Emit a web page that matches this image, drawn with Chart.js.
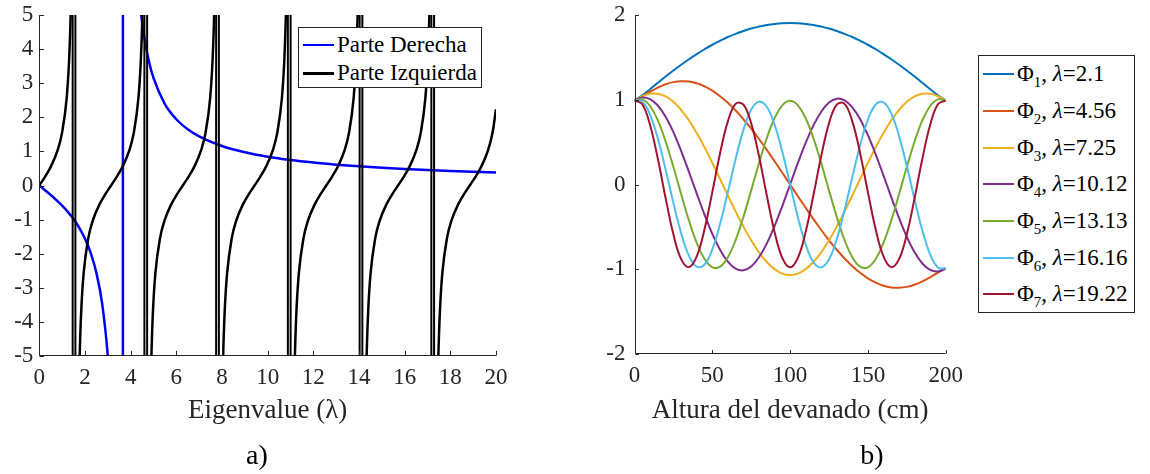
<!DOCTYPE html>
<html lang="es">
<head>
<meta charset="utf-8">
<title>Eigenvalores y modos del devanado</title>
<script src="https://cdn.jsdelivr.net/npm/chart.js@4.4.1/dist/chart.umd.min.js"></script>
<style>
  html, body { margin: 0; padding: 0; background: #fff; }
  #wrap { position: relative; width: 1150px; height: 474px; overflow: hidden;
          font-family: "Liberation Serif", "Times New Roman", serif; color: #000; }
  canvas { position: absolute; top: 0; }
  #chartA { left: 0; }
  #chartB { left: 575px; }
  .legend { position: absolute; box-sizing: border-box; border: 1px solid #262626; background: #fff; }
  .legend .row { position: absolute; left: 0; right: 0; height: 24px; line-height: 24px; white-space: nowrap; font-size: 23px; }
  .legend .swatch { position: absolute; left: 4px; width: 31px; }
  .legend .txt { position: absolute; left: 38px; top: 0; }
  .legend sub { font-size: 65%; vertical-align: -6px; line-height: 0; }
  .panel { position: absolute; font-size: 28px; line-height: 32px; transform: translateX(-50%); }
</style>
</head>
<body>
<div id="wrap">
  <canvas id="chartA" width="575" height="474"></canvas>
  <canvas id="chartB" width="575" height="474"></canvas>
  <div id="legendA" class="legend" style="left:298px; top:27px; width:184px; height:61px;"></div>
  <div id="legendB" class="legend" style="left:978px; top:55px; width:157px; height:258px;"></div>
  <div class="panel" style="left:257px; top:439px;">a)</div>
  <div class="panel" style="left:872px; top:439px;">b)</div>
</div>
<script>
// a) Ecuación característica: parte derecha vs. parte izquierda

const lambdaDer = [0, 0.25, 0.5, 0.75, 1, 1.25, 1.5, 1.75, 2, 2.25, 2.5, 2.75, 3, 3.1, 3.2, 3.3, 3.5, 3.66,
  3.8, 3.9, 4, 4.2, 4.4, 4.6, 4.8, 5, 5.5, 6, 6.5, 7, 8, 9, 10, 11, 12, 13, 14, 15, 16, 17, 18, 19, 20];
const parteDer = [0, -0.137, -0.278, -0.428, -0.591, -0.773, -0.985, -1.240, -1.558, -1.977, -2.561, -3.451, -4.996, -5.994, -7.423, -9.641, -22.36, null,
  26.63, 15.73, 11.24, 7.243, 5.400, 4.337, 3.643, 3.154, 2.389, 1.943, 1.649, 1.439, 1.157, 0.975, 0.845, 0.748, 0.673, 0.612, 0.561, 0.519, 0.483, 0.452, 0.424, 0.400, 0.379];
const asintotaDer = [3.66];

const lambdaIzq = [
  0, 0.25, 0.5, 0.8, 1.0, 1.2, 1.3, 1.35, 1.4, 1.45, 1.5708,
  1.6916, 1.7416, 1.7916, 1.8416, 1.9416, 2.1416, 2.3416, 2.6416, 2.8916, 3.1416, 3.3916, 3.6416, 3.9416, 4.1416, 4.3416, 4.4416, 4.4916, 4.5416, 4.5916, 4.7124,
  4.8332, 4.8832, 4.9332, 4.9832, 5.0832, 5.2832, 5.4832, 5.7832, 6.0332, 6.2832, 6.5332, 6.7832, 7.0832, 7.2832, 7.4832, 7.5832, 7.6332, 7.6832, 7.7332, 7.854,
  7.9748, 8.0248, 8.0748, 8.1248, 8.2248, 8.4248, 8.6248, 8.9248, 9.1748, 9.4248, 9.6748, 9.9248, 10.2248, 10.4248, 10.6248, 10.7248, 10.7748, 10.8248, 10.8748, 10.9956,
  11.1164, 11.1664, 11.2164, 11.2664, 11.3664, 11.5664, 11.7664, 12.0664, 12.3164, 12.5664, 12.8164, 13.0664, 13.3664, 13.5664, 13.7664, 13.8664, 13.9164, 13.9664, 14.0164, 14.1372,
  14.258, 14.308, 14.358, 14.408, 14.508, 14.708, 14.908, 15.208, 15.458, 15.708, 15.958, 16.208, 16.508, 16.708, 16.908, 17.008, 17.058, 17.108, 17.158, 17.2788,
  17.3996, 17.4496, 17.4996, 17.5496, 17.6496, 17.8496, 18.0496, 18.3496, 18.5996, 18.8496, 19.0996, 19.3496, 19.6496, 19.8496, 20
];
const parteIzq = [
  0, 0.255, 0.546, 1.030, 1.557, 2.572, 3.602, 4.455, 5.798, 8.238, null,
  -8.238, -5.798, -4.455, -3.602, -2.572, -1.557, -1.030, -0.546, -0.255, 0, 0.255, 0.546, 1.030, 1.557, 2.572, 3.602, 4.455, 5.798, 8.238, null,
  -8.238, -5.798, -4.455, -3.602, -2.572, -1.557, -1.030, -0.546, -0.255, 0, 0.255, 0.546, 1.030, 1.557, 2.572, 3.602, 4.455, 5.798, 8.238, null,
  -8.238, -5.798, -4.455, -3.602, -2.572, -1.557, -1.030, -0.546, -0.255, 0, 0.255, 0.546, 1.030, 1.557, 2.572, 3.602, 4.455, 5.798, 8.238, null,
  -8.238, -5.798, -4.455, -3.602, -2.572, -1.557, -1.030, -0.546, -0.255, 0, 0.255, 0.546, 1.030, 1.557, 2.572, 3.602, 4.455, 5.798, 8.238, null,
  -8.238, -5.798, -4.455, -3.602, -2.572, -1.557, -1.030, -0.546, -0.255, 0, 0.255, 0.546, 1.030, 1.557, 2.572, 3.602, 4.455, 5.798, 8.238, null,
  -8.238, -5.798, -4.455, -3.602, -2.572, -1.557, -1.030, -0.546, -0.255, 0, 0.255, 0.546, 1.030, 1.557, 2.237
];
// double jump lines at every pole of the black curve
const asintotasIzq = [1.4608, 1.5808, 4.6024, 4.7224, 7.744, 7.864, 10.8856, 11.0056, 14.0272, 14.1472, 17.1688, 17.2888];

const ticksLambda = [0, 2, 4, 6, 8, 10, 12, 14, 16, 18, 20];
const ticksA = [-5, -4, -3, -2, -1, 0, 1, 2, 3, 4, 5];
const nombresA = ['Parte Derecha', 'Parte Izquierda'];
const coloresA = ['#0000ff', '#000000'];

// b) Modos Φ1..Φ7 a lo largo del devanado

const alturas = [0, 5, 10, 15, 20, 25, 30, 35, 40, 45, 50, 55, 60, 65, 70, 75, 80, 85, 90, 95, 100,
  105, 110, 115, 120, 125, 130, 135, 140, 145, 150, 155, 160, 165, 170, 175, 180, 185, 190, 195, 200];
const phi1 = [0.990, 1.053, 1.125, 1.200, 1.274, 1.345, 1.413, 1.478, 1.539, 1.596, 1.649, 1.696, 1.740, 1.778, 1.811, 1.840, 1.863, 1.882, 1.895, 1.903, 1.905,
  1.903, 1.895, 1.882, 1.863, 1.840, 1.811, 1.778, 1.740, 1.696, 1.649, 1.596, 1.539, 1.478, 1.413, 1.345, 1.274, 1.200, 1.125, 1.053, 0.990];
const phi2 = [0.990, 1.040, 1.095, 1.144, 1.183, 1.208, 1.218, 1.214, 1.194, 1.158, 1.108, 1.042, 0.964, 0.873, 0.770, 0.658, 0.537, 0.409, 0.275, 0.139, 0,
  -0.139, -0.275, -0.409, -0.537, -0.658, -0.770, -0.873, -0.964, -1.042, -1.108, -1.158, -1.194, -1.214, -1.218, -1.208, -1.183, -1.144, -1.095, -1.040, -0.990];
const phi3 = [0.990, 1.041, 1.070, 1.071, 1.039, 0.975, 0.879, 0.756, 0.607, 0.439, 0.256, 0.065, -0.129, -0.318, -0.496, -0.659, -0.800, -0.914, -0.999, -1.051, -1.068,
  -1.051, -0.999, -0.914, -0.800, -0.659, -0.496, -0.318, -0.129, 0.065, 0.256, 0.439, 0.607, 0.756, 0.879, 0.975, 1.039, 1.071, 1.070, 1.041, 0.990];
const phi4 = [0.990, 1.026, 1.008, 0.932, 0.799, 0.617, 0.395, 0.149, -0.107, -0.356, -0.582, -0.771, -0.911, -0.993, -1.012, -0.967, -0.859, -0.698, -0.491, -0.254, 0,
  0.254, 0.491, 0.698, 0.859, 0.967, 1.012, 0.993, 0.911, 0.771, 0.582, 0.356, 0.107, -0.149, -0.395, -0.617, -0.799, -0.932, -1.008, -1.026, -0.990];
const phi5 = [0.990, 1.005, 0.926, 0.756, 0.508, 0.207, -0.115, -0.425, -0.689, -0.880, -0.977, -0.970, -0.859, -0.656, -0.383, -0.069, 0.252, 0.546, 0.782, 0.934, 0.987,
  0.934, 0.782, 0.546, 0.252, -0.069, -0.383, -0.656, -0.859, -0.970, -0.977, -0.880, -0.689, -0.425, -0.115, 0.207, 0.508, 0.756, 0.926, 1.005, 0.990];
const phi6 = [0.990, 0.979, 0.824, 0.542, 0.176, -0.217, -0.574, -0.840, -0.970, -0.944, -0.766, -0.464, -0.088, 0.302, 0.644, 0.882, 0.978, 0.917, 0.708, 0.385, 0,
  -0.385, -0.708, -0.917, -0.978, -0.882, -0.644, -0.302, 0.088, 0.464, 0.766, 0.944, 0.970, 0.840, 0.574, 0.217, -0.176, -0.542, -0.824, -0.979, -0.990];
const phi7 = [0.990, 0.947, 0.701, 0.303, -0.161, -0.588, -0.881, -0.975, -0.848, -0.529, -0.090, 0.369, 0.745, 0.952, 0.943, 0.721, 0.336, -0.126, -0.559, -0.865, -0.976,
  -0.865, -0.559, -0.126, 0.336, 0.721, 0.943, 0.952, 0.745, 0.369, -0.090, -0.529, -0.848, -0.975, -0.881, -0.588, -0.161, 0.303, 0.701, 0.947, 0.990];

const lambdas = [2.1, 4.56, 7.25, 10.12, 13.13, 16.16, 19.22];
const coloresB = ['#0072bd', '#d95319', '#edb120', '#7e2f8e', '#77ac30', '#4dbeee', '#a2142f'];
const ticksAltura = [0, 50, 100, 150, 200];
const ticksB = [-2, -1, 0, 1, 2];

// Helpers

const FONT = '"Liberation Serif", "Times New Roman", serif';
const INK = '#262626';

const pts = (xs, ys) => xs.map((x, i) => ({ x, y: ys[i] }));
// each pole becomes a full-height segment, separated by gaps
const verticals = xs => xs.flatMap(x => [{ x, y: -60 }, { x, y: 60 }, { x, y: null }]);

// MATLAB style axes: only left/bottom lines, ticks pointing inward
const axisFrame = {
  id: 'axisFrame',
  afterDraw(chart, args, opts) {
    const { ctx, chartArea: a, scales: { x, y } } = chart;
    const L = Math.round(a.left) + 0.5;
    const B = Math.round(a.bottom) - 0.5;
    ctx.save();
    ctx.strokeStyle = INK;
    ctx.lineWidth = 1;
    ctx.beginPath();
    ctx.moveTo(L, a.top);
    ctx.lineTo(L, B);
    ctx.lineTo(a.right, B);
    x.ticks.forEach(t => {
      const px = Math.round(x.getPixelForValue(t.value)) + 0.5;
      ctx.moveTo(px, B);
      ctx.lineTo(px, B - opts.len);
    });
    y.ticks.forEach(t => {
      const py = Math.round(y.getPixelForValue(t.value)) + 0.5;
      ctx.moveTo(L, py);
      ctx.lineTo(L + opts.len, py);
    });
    ctx.stroke();
    ctx.restore();
  }
};

function xScale(min, max, ticks, title, axisHeight) {
  return {
    type: 'linear', min, max,
    afterBuildTicks: s => { s.ticks = ticks.map(v => ({ value: v })); },
    afterFit: s => { s.height = axisHeight; s.paddingLeft = 0; s.paddingRight = 0; },
    grid: { display: false, drawTicks: false },
    border: { display: false },
    ticks: { autoSkip: false, maxRotation: 0, padding: 8, color: INK,
             font: { family: FONT, size: 23 }, callback: v => String(v) },
    title: { display: true, text: title, color: INK,
             font: { family: FONT, size: 27 }, padding: { top: 0, bottom: 47 } }
  };
}

function yScale(min, max, ticks, axisWidth, pad) {
  return {
    type: 'linear', min, max,
    afterBuildTicks: s => { s.ticks = ticks.map(v => ({ value: v })); },
    afterFit: s => { s.width = axisWidth; s.paddingTop = 0; s.paddingBottom = 0; },
    grid: { display: false, drawTicks: false },
    border: { display: false },
    ticks: { padding: pad, color: INK, font: { family: FONT, size: 23 }, callback: v => String(v) }
  };
}

function baseOptions(scales, padRight, tickLen) {
  return {
    responsive: false,
    animation: false,
    devicePixelRatio: 1,
    events: [],
    layout: { padding: { top: 15, right: padRight, left: 0, bottom: 0 } },
    elements: { point: { radius: 0 }, line: { fill: false } },
    plugins: { legend: { display: false }, tooltip: { enabled: false }, axisFrame: { len: tickLen } },
    scales
  };
}

// Panel a)

new Chart(document.getElementById('chartA'), {
  type: 'line',
  data: {
    datasets: [
      { label: nombresA[1], data: pts(lambdaIzq, parteIzq), borderColor: coloresA[1], borderWidth: 2.5,
        cubicInterpolationMode: 'monotone', order: 1 },
      { label: 'polos izq.', data: verticals(asintotasIzq), borderColor: coloresA[1], borderWidth: 2,
        tension: 0, order: 1 },
      { label: nombresA[0], data: pts(lambdaDer, parteDer), borderColor: coloresA[0], borderWidth: 2.5,
        cubicInterpolationMode: 'monotone', order: 2 },
      { label: 'polo der.', data: verticals(asintotaDer), borderColor: coloresA[0], borderWidth: 2.5,
        tension: 0, order: 2 }
    ]
  },
  options: baseOptions({
    x: xScale(0, 20, ticksLambda, 'Eigenvalue (λ)', 118),
    y: yScale(-5, 5, ticksA, 39.3, 6)
  }, 79, 4.6),
  plugins: [axisFrame]
});

// Panel b)

const modos = [phi1, phi2, phi3, phi4, phi5, phi6, phi7];

new Chart(document.getElementById('chartB'), {
  type: 'line',
  data: {
    datasets: modos.map((phi, i) => ({
      label: `Φ${i + 1}, λ=${lambdas[i]}`,
      data: pts(alturas, phi),
      borderColor: coloresB[i],
      borderWidth: 2,
      tension: 0.4,
      order: modos.length - i
    }))
  },
  options: baseOptions({
    x: xScale(0, 200, ticksAltura, 'Altura del devanado (cm)', 120),
    y: yScale(-2, 2, ticksB, 59.5, 9)
  }, 204.3, 3.4),
  plugins: [axisFrame]
});

// Legends (HTML so the subscripts stay real text)

function legendRow(box, top, color, thick, html) {
  const row = document.createElement('div');
  row.className = 'row';
  row.style.top = top + 'px';
  row.innerHTML = `<span class="swatch" style="top:${12 - thick / 2}px;height:${thick}px;background:${color}"></span>` +
                  `<span class="txt">${html}</span>`;
  box.appendChild(row);
}

const legA = document.getElementById('legendA');
nombresA.forEach((n, i) => legendRow(legA, 5 + i * 28.3, coloresA[i], 2.5, n));

const legB = document.getElementById('legendB');
lambdas.forEach((l, i) =>
  legendRow(legB, 6.3 + i * 36.67, coloresB[i], 2, `Φ<sub>${i + 1}</sub>, <i>λ</i>=${l}`));
</script>
</body>
</html>
